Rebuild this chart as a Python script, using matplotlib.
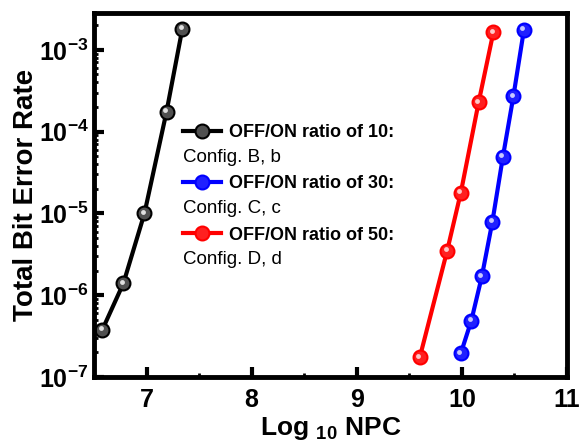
import matplotlib
matplotlib.use("Agg")
import matplotlib.pyplot as plt
from matplotlib.ticker import FixedLocator, FuncFormatter, LogLocator, NullFormatter
from matplotlib.transforms import offset_copy
import numpy as np

plt.rcParams['font.family'] = ['Liberation Sans', 'DejaVu Sans']
plt.rcParams['mathtext.fontset'] = 'custom'
plt.rcParams['mathtext.rm'] = 'Liberation Sans:bold'
plt.rcParams['mathtext.bf'] = 'Liberation Sans:bold'
plt.rcParams['mathtext.it'] = 'Liberation Sans:bold'

# Data
x10 = [6.58, 6.78, 6.98, 7.19, 7.34]
y10 = [3.8e-7, 1.4e-6, 1.0e-5, 1.75e-4, 1.8e-3]
x50 = [9.60, 9.86, 9.99, 10.16, 10.30]
y50 = [1.75e-7, 3.5e-6, 1.8e-5, 2.3e-4, 1.65e-3]
x30 = [9.99, 10.09, 10.19, 10.29, 10.39, 10.49, 10.59]
y30 = [1.95e-7, 4.9e-7, 1.7e-6, 7.9e-6, 4.9e-5, 2.7e-4, 1.75e-3]

labels = ['OFF/ON ratio of 10:', 'OFF/ON ratio of 30:', 'OFF/ON ratio of 50:']
configs = ['Config. B, b', 'Config. C, c', 'Config. D, d']
xticks = [7, 8, 9, 10, 11]
yticks = [1e-7, 1e-6, 1e-5, 1e-4, 1e-3]

fig = plt.figure(figsize=(5.81, 4.43), dpi=100)
ax = fig.add_axes([94/581, 1-377/443, (567-94)/581, (377-13)/443])

hl_trans = offset_copy(ax.transData, fig=fig, x=-1.5, y=1.5, units='dots')

series = [(x10, y10, 'black', '#505050', '#e0e0e0'),
          (x30, y30, 'blue', '#2020ff', '#c8c8ff'),
          (x50, y50, 'red', '#ff2020', '#ffc8c8')]
handles = []
for (xs, ys, c, face, hi), lab in zip(series, labels):
    h, = ax.plot(xs, ys, '-o', color=c, lw=3, ms=10, mfc=face, mec=c, mew=1.5, label=lab)
    ax.plot(xs, ys, 'o', ms=3.5, mfc=hi, mec='none', transform=hl_trans)
    handles.append(h)

ax.set_yscale('log')
ax.set_xlim(6.5, 11)
ax.set_ylim(1e-7, 10**-2.55)

ax.xaxis.set_major_locator(FixedLocator(xticks))
ax.xaxis.set_minor_locator(FixedLocator([6.5, 7.5, 8.5, 9.5, 10.5]))
ax.yaxis.set_major_locator(FixedLocator(yticks))
ax.yaxis.set_minor_locator(LogLocator(base=10, subs=np.arange(2, 10)))
ax.yaxis.set_minor_formatter(NullFormatter())
ax.yaxis.set_major_formatter(FuncFormatter(lambda v, p: r'$\mathbf{10^{%d}}$' % round(np.log10(v))))

ax.tick_params(axis='both', which='major', direction='in', length=7, width=3,
               labelsize=18, pad=8)
ax.tick_params(axis='y', which='major', pad=4)
ax.tick_params(axis='both', which='minor', direction='in', length=3, width=2)
for lab in ax.get_xticklabels():
    lab.set_fontweight('bold')
for sp in ax.spines.values():
    sp.set_linewidth(3.5)

ax.set_ylabel('Total Bit Error Rate', fontsize=20, fontweight='bold', labelpad=0)
ax.set_xlabel(r'$\mathbf{Log}$ $_{\mathbf{10}}$ $\mathbf{NPC}$', fontsize=19, labelpad=2)

leg = ax.legend(handles=handles, frameon=False,
                loc='upper left', bbox_to_anchor=(0.189, 0.695),
                prop={'size': 13, 'weight': 'bold'}, handlelength=2.1,
                handletextpad=0.4, labelspacing=1.9, borderaxespad=0, borderpad=0)

for i, cfg in enumerate(configs):
    ax.text(183, 443 - 158 - i * 50.5, cfg, transform=None, fontsize=13.5,
            va='center', ha='left')

fig.savefig('out.png', dpi=100)
